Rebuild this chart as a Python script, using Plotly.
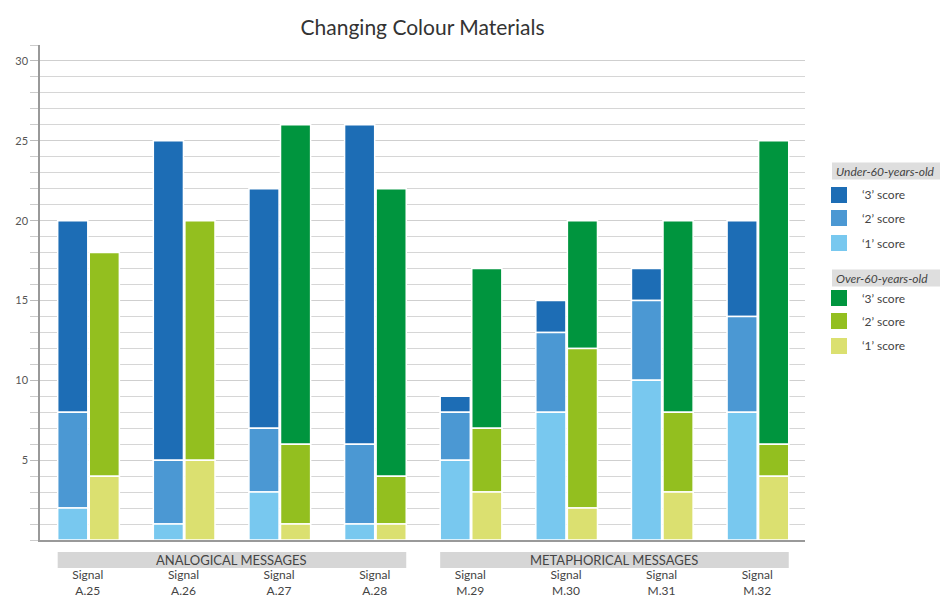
import plotly.graph_objects as go

signals = ["Signal<br>A.25", "Signal<br>A.26", "Signal<br>A.27", "Signal<br>A.28",
           "Signal<br>M.29", "Signal<br>M.30", "Signal<br>M.31", "Signal<br>M.32"]
groups = ["ANALOGICAL MESSAGES", "METAPHORICAL MESSAGES"]
score_names = ["‘1’ score", "‘2’ score", "‘3’ score"]
legend_titles = ["Under-60-years-old", "Over-60-years-old"]

# Under-60-years-old
under_1 = [2, 1, 3, 1, 5, 8, 10, 8]
under_2 = [6, 4, 4, 5, 3, 5, 5, 6]
under_3 = [12, 20, 15, 20, 1, 2, 2, 6]
# Over-60-years-old
over_1 = [4, 5, 1, 1, 3, 2, 3, 4]
over_2 = [14, 15, 5, 3, 4, 10, 5, 2]
over_3 = [0, 0, 20, 18, 10, 8, 12, 19]

under_colors = ["#78c8ef", "#4b98d3", "#1d6db5"]
over_colors = ["#dbe070", "#93bf1f", "#00953e"]

FONT = "Lato"
xs = list(range(len(signals)))
W = 0.315

# page has an 8px body margin; figure is sized to fill the rest of the window
OFF = 8
FW, FH = 948 - OFF, 601 - OFF
# plot area in screen pixels
L, R, T, B = 40, 805, 45, 540
def px(xp):
    return (xp - L) / (R - L)
def py(yp):
    return (B - yp) / (B - T)

fig = go.Figure()

def add_stack(vals_list, colors, group, offset):
    base = [0] * len(xs)
    bases = []
    for v in vals_list:
        bases.append(list(base))
        base = [b + a for b, a in zip(base, v)]
    for i in reversed(range(len(vals_list))):
        fig.add_trace(go.Bar(
            x=xs, y=vals_list[i], base=bases[i], name=score_names[i],
            marker=dict(color=colors[i], line=dict(color="white", width=1.5)),
            width=W, offset=offset, legendgroup=group, showlegend=False,
            hoverinfo="skip"))

add_stack([under_1, under_2, under_3], under_colors, "under", -W)
add_stack([over_1, over_2, over_3], over_colors, "over", 0.015)

shapes = []
annotations = []
for gi, g in enumerate(groups):
    x0 = gi * 4 - W
    x1 = gi * 4 + 3 + 0.015 + W
    shapes.append(dict(type="rect", xref="x", yref="paper", x0=x0, x1=x1, y0=py(568), y1=py(552),
                       fillcolor="#d6d6d6", line=dict(width=0), layer="below"))
    annotations.append(dict(xref="x", yref="paper", x=(x0 + x1) / 2, y=py(560), text=g, showarrow=False,
                            font=dict(family=FONT, size=13, color="#444"), xanchor="center", yanchor="middle"))

# manual legend
legend_blocks = [(171, [195, 218, 243], under_colors), (278, [298, 321, 346], over_colors)]
for (title_y, item_ys, cols), title in zip(legend_blocks, legend_titles):
    shapes.append(dict(type="rect", xref="paper", yref="paper", x0=px(832), x1=px(948),
                       y0=py(title_y + 8.5), y1=py(title_y - 8.5), fillcolor="#dedede", line=dict(width=0)))
    annotations.append(dict(xref="paper", yref="paper", x=px(834), y=py(title_y), text="<i>" + title + "</i>",
                            showarrow=False, xanchor="left", yanchor="middle",
                            font=dict(family=FONT, size=12, color="#444")))
    for k, iy in enumerate(item_ys):
        idx = 2 - k
        shapes.append(dict(type="rect", xref="paper", yref="paper", x0=px(831), x1=px(847),
                           y0=py(iy + 8), y1=py(iy - 8), fillcolor=cols[idx], line=dict(width=0)))
        annotations.append(dict(xref="paper", yref="paper", x=px(860), y=py(iy), text=score_names[idx],
                                showarrow=False, xanchor="left", yanchor="middle",
                                font=dict(family=FONT, size=12, color="#444")))

fig.update_layout(
    width=FW, height=FH,
    margin=dict(l=L - OFF, r=948 - R, t=T - OFF, b=601 - B, autoexpand=False),
    paper_bgcolor="white", plot_bgcolor="white",
    barmode="overlay",
    showlegend=False,
    title=dict(text="Changing Colour Materials", x=0.5, xref="paper", y=1 - (28 - OFF) / FH, yref="container",
               yanchor="middle", font=dict(family=FONT, size=21, color="#333")),
    font=dict(family=FONT, color="#444"),
    xaxis=dict(tickvals=xs, ticktext=signals, range=[-0.5, 7.5], showgrid=False, automargin=False,
               showline=True, linecolor="#999", linewidth=1.5, ticks="", ticklabelstandoff=23,
               tickfont=dict(family=FONT, size=12, color="#444")),
    yaxis=dict(range=[0, 31], tickvals=[5, 10, 15, 20, 25, 30], showgrid=True, gridcolor="#cfcfcf",
               gridwidth=1, showline=True, linecolor="#999", linewidth=1.5, ticks="outside", automargin=False,
               ticklen=8, tickcolor="#bbb", zeroline=False,
               minor=dict(dtick=1, showgrid=True, gridcolor="#d6d6d6", ticks="outside", ticklen=8, tickcolor="#ccc"),
               tickfont=dict(family=FONT, size=11, color="#555")),
    shapes=shapes, annotations=annotations,
)

fig.write_html("out.html")
